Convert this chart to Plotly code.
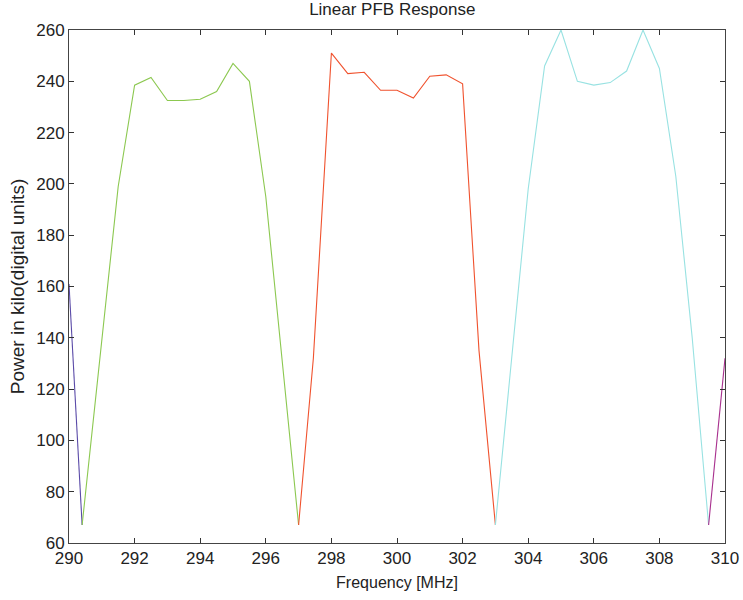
import plotly.graph_objects as go

# Frequencies (MHz) and power (kilo digital units) per channel
f_purple_left = [290.0, 290.4]
p_purple_left = [161, 67]

f_green = [290.4, 291.5, 292.0, 292.5, 293.0, 293.5, 294.0, 294.5, 295.0, 295.5, 296.0, 297.0]
p_green = [67, 199, 238.5, 241.5, 232.5, 232.5, 233, 236, 247, 240, 195, 67]

f_red = [297.0, 297.45, 298.0, 298.5, 299.0, 299.5, 300.0, 300.5, 301.0, 301.5, 302.0, 302.5, 303.0]
p_red = [67, 132, 251, 243, 243.5, 236.5, 236.5, 233.5, 242, 242.5, 239, 135, 67]

f_cyan = [303.0, 303.5, 304.0, 304.5, 305.0, 305.5, 306.0, 306.5, 307.0, 307.5, 308.0, 308.5, 309.0, 309.5]
p_cyan = [67, 132, 198, 246, 260, 240, 238.5, 239.5, 244, 260, 245, 203, 140, 67]

f_purple_right = [309.5, 310.0]
p_purple_right = [67, 132]

x_ticks = [290, 292, 294, 296, 298, 300, 302, 304, 306, 308, 310]
y_ticks = [60, 80, 100, 120, 140, 160, 180, 200, 220, 240, 260]

series = [
    (f_purple_left, p_purple_left, "#5a4aa8"),
    (f_green, p_green, "#8cc850"),
    (f_red, p_red, "#f0522e"),
    (f_cyan, p_cyan, "#98e2e2"),
    (f_purple_right, p_purple_right, "#a8308e"),
]

fig = go.Figure()
for fx, py, col in series:
    fig.add_trace(go.Scatter(x=fx, y=py, mode="lines",
                             line=dict(color=col, width=1.1),
                             showlegend=False, hoverinfo="skip"))

font_family = "Liberation Sans, Arial, sans-serif"
fig.update_layout(
    width=743, height=600,
    margin=dict(l=69, r=18, t=30, b=57, autoexpand=False),
    paper_bgcolor="white", plot_bgcolor="white",
    font=dict(family=font_family, size=16, color="#222"),
    title=dict(text="Linear PFB Response", x=0.528, xanchor="center",
               y=0.995, yanchor="top", font=dict(size=17, color="#222")),
    xaxis=dict(range=[290, 310], tickvals=x_ticks, ticktext=[str(v) for v in x_ticks],
               ticks="inside", ticklen=5, tickcolor="#333", showline=True,
               linecolor="#444", linewidth=1, mirror="ticks", showgrid=False,
               zeroline=False, tickfont=dict(size=17), automargin=False,
               ticklabeloverflow="allow",
               title=dict(text="Frequency [MHz]", font=dict(size=16), standoff=9)),
    yaxis=dict(range=[60, 260], tickvals=y_ticks, ticktext=[str(v) for v in y_ticks],
               ticks="inside", ticklen=5, tickcolor="#333", showline=True,
               linecolor="#444", linewidth=1, mirror="ticks", showgrid=False,
               zeroline=False, tickfont=dict(size=17), automargin=False,
               ticklabeloverflow="allow",
               title=dict(text="Power in kilo(digital units)", font=dict(size=19), standoff=6)),
)

fig.write_html("out.html")
